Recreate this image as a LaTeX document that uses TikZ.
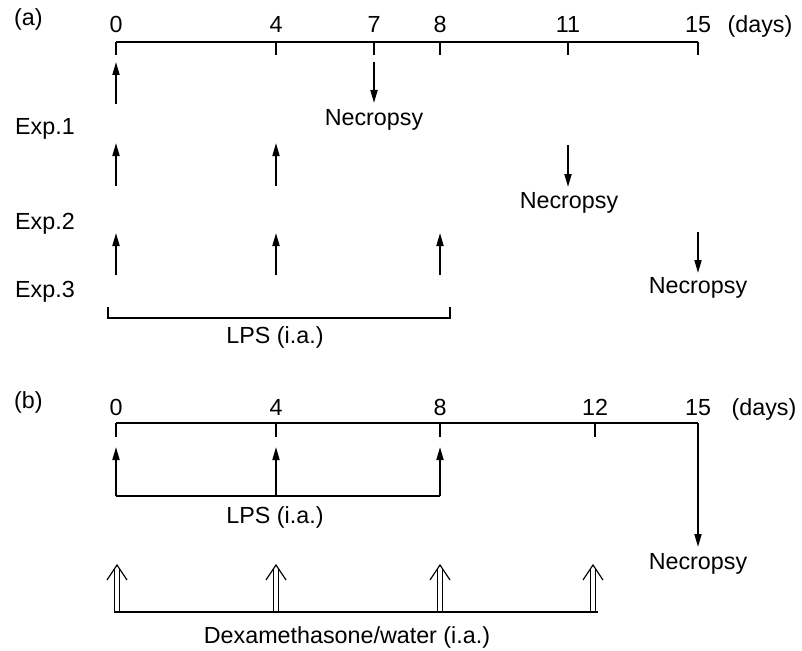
\documentclass[tikz,border=0pt]{standalone}
\usepackage{fontspec}
\setmainfont{Liberation Sans}
\usetikzlibrary{arrows.meta}
\begin{document}
\begin{tikzpicture}[x=1pt,y=-1pt,
  lbl/.style={anchor=base,inner sep=0pt,font=\fontsize{23.3}{28}\selectfont},
  lblw/.style={lbl,anchor=base west},
  axisline/.style={line width=1.8pt},
  tickline/.style={line width=1.1pt},
  arr/.style={line width=1.8pt,-{Triangle[length=13pt,width=7pt]}},
  brk/.style={line width=1.2pt},
  lpsline/.style={line width=1.9pt},
  dline/.style={line width=1.1pt},
  dhead/.style={line width=1.2pt}]
\useasboundingbox (0,0) rectangle (802,650);

% ---------------- (a) ----------------
\node[lblw] (la) at (14,26) {(a)};
\foreach \d/\x in {0/116,4/276,7/374,8/440,11/568,15/698}{
  \coordinate (a\d) at (\x,42);
  \coordinate (a\d t) at (\x,55);
  \node[lbl] (na\d) at (\x,33) {\d};
  \draw[tickline] (a\d) -- (a\d t);
}
\draw[axisline] (a0) -- (a15);
\node[lbl] (daysa) at (760,33) {(days)};

% Exp.1
\node[lblw] (e1) at (15,135) {Exp.1};
\coordinate (e1s0) at (116,104); \coordinate (e1e0) at (116,62);
\draw[arr] (e1s0) -- (e1e0);
\coordinate (n1s) at (374,62); \coordinate (n1e) at (374,103);
\draw[arr] (n1s) -- (n1e);
\node[lbl] (nec1) at (374,125) {Necropsy};

% Exp.2
\node[lblw] (e2) at (15,229) {Exp.2};
\foreach \x [count=\i] in {116,276}{
  \coordinate (e2s\i) at (\x,186); \coordinate (e2e\i) at (\x,143);
  \draw[arr] (e2s\i) -- (e2e\i);
}
\coordinate (n2s) at (568,145); \coordinate (n2e) at (568,187);
\draw[arr] (n2s) -- (n2e);
\node[lbl] (nec2) at (569,208) {Necropsy};

% Exp.3
\node[lblw] (e3) at (15,297) {Exp.3};
\foreach \x [count=\i] in {116,276,440}{
  \coordinate (e3s\i) at (\x,275); \coordinate (e3e\i) at (\x,233);
  \draw[arr] (e3s\i) -- (e3e\i);
}
\coordinate (n3s) at (698,232); \coordinate (n3e) at (698,273);
\draw[arr] (n3s) -- (n3e);
\node[lbl] (nec3) at (698,293) {Necropsy};

% LPS bracket (a)
\coordinate (bl) at (108,307); \coordinate (br) at (450,307);
\draw[brk] (bl) -- ++(0,11) -| (br);
\node[lbl] (lpsa) at (275,343) {LPS (i.a.)};

% ---------------- (b) ----------------
\node[lblw] (lb) at (14,408) {(b)};
\foreach \d/\x in {0/116,4/276,8/440,12/595,15/698}{
  \coordinate (b\d) at (\x,423);
  \coordinate (b\d t) at (\x,437);
  \node[lbl] (nb\d) at (\x,415) {\d};
  \draw[tickline] (b\d) -- (b\d t);
}
\draw[axisline] (b0) -- (b15);
\node[lbl] (daysb) at (764,415) {(days)};

% LPS (b)
\foreach \x [count=\i] in {116,276,440}{
  \coordinate (ls\i) at (\x,496); \coordinate (le\i) at (\x,447);
  \draw[arr] (ls\i) -- (le\i);
}
\draw[lpsline] (ls1) -- (ls3);
\node[lbl] (lpsb) at (275,523) {LPS (i.a.)};

% Necropsy (b)
\coordinate (nbe) at (698,547);
\draw[arr] (b15) -- (nbe);
\node[lbl] (necb) at (698,569) {Necropsy};

% Dexamethasone double arrows
\foreach \x [count=\i] in {117,276,440,593}{
  \coordinate (dx\i) at (\x,612);
  \coordinate (dt\i) at (\x,565);
  \draw[dline] ([xshift=-2.6pt]dx\i) -- ([xshift=-2.6pt,yshift=-4pt]dt\i);
  \draw[dline] ([xshift=2.6pt]dx\i) -- ([xshift=2.6pt,yshift=-4pt]dt\i);
  \draw[dhead,line join=miter] ([xshift=-10pt,yshift=-15pt]dt\i) -- (dt\i) -- ([xshift=10pt,yshift=-15pt]dt\i);
}
\coordinate (dend) at (598,612);
\draw[lpsline] ([xshift=-3.5pt]dx1) -- (dend);
\node[lbl] (dexa) at (347,643) {Dexamethasone/water (i.a.)};
\end{tikzpicture}
\end{document}
